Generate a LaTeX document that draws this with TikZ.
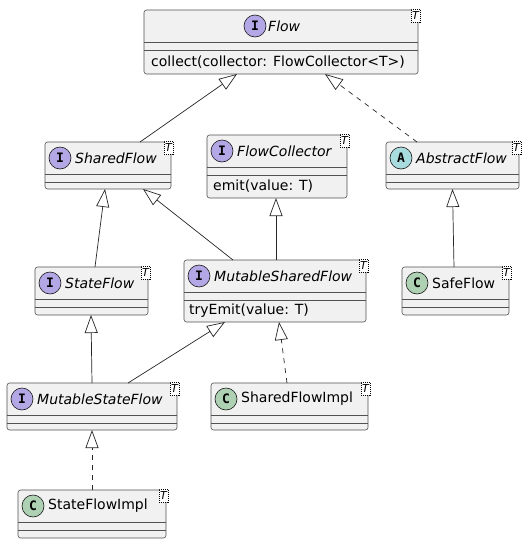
\documentclass[tikz,border=0pt]{standalone}
\usepackage{fontspec}
\setmainfont{DejaVu Sans}
\newfontfamily\badgefont{DejaVu Sans Mono}
\usetikzlibrary{arrows.meta}

\definecolor{boxfill}{HTML}{F1F1F1}
\definecolor{boxline}{HTML}{181818}
\definecolor{ifacebadge}{HTML}{B4A7E5}
\definecolor{abstractbadge}{HTML}{A9DCDF}
\definecolor{classbadge}{HTML}{ADD1B2}

\tikzset{
  classframe/.style={draw=boxline!75, fill=boxfill, line width=0.6pt,
    rounded corners=2.5pt, inner sep=0pt, outer sep=0pt},
  sepline/.style={draw=boxline!75, line width=0.6pt},
  badge/.style={circle, draw=boxline, line width=0.6pt, minimum size=22pt,
    inner sep=0pt, font=\badgefont\bfseries\fontsize{13}{13}\selectfont},
  ctitle/.style={anchor=west, inner sep=0pt, font=\fontsize{14}{16}\selectfont\itshape},
  cname/.style={anchor=west, inner sep=0pt, font=\fontsize{14}{16}\selectfont},
  member/.style={anchor=west, inner sep=0pt, font=\fontsize{14}{16}\selectfont},
  generic/.style={draw=black, dash pattern=on 1pt off 1pt, line width=0.5pt,
    fill=white, minimum width=9pt, minimum height=13pt, inner sep=0pt,
    font=\fontsize{11}{11}\selectfont\itshape},
  extends/.style={draw=black!85, line width=0.7pt,
    -{Triangle[open, length=18pt, width=13pt, line width=0.7pt]}},
  realizes/.style={extends, dash pattern=on 5pt off 5pt},
}

% frame of a class: name, left, top, right, bottom (1 unit = 1pt, y downwards)
\newcommand\classframe[5]{%
  \node[classframe, minimum width={(#4-#2)*1pt}, minimum height={(#5-#3)*1pt}]
    (#1) at ({(#2+#4)/2},{(#3+#5)/2}) {};
  \draw[sepline] ([yshift=-32pt]#1.north west) -- ([yshift=-32pt]#1.north east);
  \draw[sepline] ([yshift=-40pt]#1.north west) -- ([yshift=-40pt]#1.north east);
  \node[generic] (#1-T) at ([xshift=-2.5pt, yshift=-5.5pt]#1.north east) {T};
}

\begin{document}
\begin{tikzpicture}[x=1pt, y=-1pt]
\useasboundingbox[fill=white] (0,0) rectangle (529,544);

% Flow
\classframe{flow}{144}{10}{418}{74}
\node[badge, fill=ifacebadge] (flow-b) at ([xshift=111pt, yshift=-16pt]flow.north west) {I};
\node[ctitle] (flow-n) at ([xshift=124pt, yshift=-16pt]flow.north west) {Flow};
\node[member] (flow-m) at ([xshift=7pt, yshift=-52pt]flow.north west) {collect(collector: FlowCollector<T>)};

% SharedFlow
\classframe{sf}{45}{142}{171}{189}
\node[badge, fill=ifacebadge] (sf-b) at ([xshift=15pt, yshift=-16pt]sf.north west) {I};
\node[ctitle] (sf-n) at ([xshift=30pt, yshift=-16pt]sf.north west) {SharedFlow};

% FlowCollector
\classframe{fc}{207}{135}{347}{198}
\node[badge, fill=ifacebadge] (fc-b) at ([xshift=15pt, yshift=-16pt]fc.north west) {I};
\node[ctitle] (fc-n) at ([xshift=30pt, yshift=-16pt]fc.north west) {FlowCollector};
\node[member] (fc-m) at ([xshift=6pt, yshift=-51pt]fc.north west) {emit(value: T)};

% AbstractFlow
\classframe{af}{386}{142}{519}{189}
\node[badge, fill=abstractbadge] (af-b) at ([xshift=15pt, yshift=-16pt]af.north west) {A};
\node[ctitle] (af-n) at ([xshift=30pt, yshift=-16pt]af.north west) {AbstractFlow};

% StateFlow
\classframe{stf}{35}{267}{148}{315}
\node[badge, fill=ifacebadge] (stf-b) at ([xshift=15pt, yshift=-16pt]stf.north west) {I};
\node[ctitle] (stf-n) at ([xshift=30pt, yshift=-16pt]stf.north west) {StateFlow};

% MutableSharedFlow
\classframe{msf}{184}{260}{366}{322}
\node[badge, fill=ifacebadge] (msf-b) at ([xshift=15pt, yshift=-16pt]msf.north west) {I};
\node[ctitle] (msf-n) at ([xshift=30pt, yshift=-16pt]msf.north west) {MutableSharedFlow};
\node[member] (msf-m) at ([xshift=5pt, yshift=-51pt]msf.north west) {tryEmit(value: T)};

% SafeFlow
\classframe{safe}{402}{267}{509}{315}
\node[badge, fill=classbadge] (safe-b) at ([xshift=15pt, yshift=-16pt]safe.north west) {C};
\node[cname] (safe-n) at ([xshift=30pt, yshift=-16pt]safe.north west) {SafeFlow};

% MutableStateFlow
\classframe{mstf}{7}{383}{177}{430}
\node[badge, fill=ifacebadge] (mstf-b) at ([xshift=15pt, yshift=-16pt]mstf.north west) {I};
\node[ctitle] (mstf-n) at ([xshift=30pt, yshift=-16pt]mstf.north west) {MutableStateFlow};

% SharedFlowImpl
\classframe{sfi}{211}{383}{368}{430}
\node[badge, fill=classbadge] (sfi-b) at ([xshift=15pt, yshift=-16pt]sfi.north west) {C};
\node[cname] (sfi-n) at ([xshift=30pt, yshift=-16pt]sfi.north west) {SharedFlowImpl};

% StateFlowImpl
\classframe{stfi}{18}{490}{166}{538}
\node[badge, fill=classbadge] (stfi-b) at ([xshift=15pt, yshift=-16pt]stfi.north west) {C};
\node[cname] (stfi-n) at ([xshift=30pt, yshift=-16pt]stfi.north west) {StateFlowImpl};

% inheritance
\draw[extends] ([xshift=32pt]sf.north) -- ([xshift=-44pt]flow.south);
\draw[realizes] ([xshift=-35.5pt]af.north) -- ([xshift=44pt]flow.south);
\draw[extends] ([xshift=3.5pt]stf.north) -- ([xshift=-3pt]sf.south);
\draw[extends] ([xshift=-42pt]msf.north) -- ([xshift=35pt]sf.south);
\draw[extends] ([xshift=1pt]msf.north) -- ([xshift=-1pt]fc.south);
\draw[extends] ([xshift=-1.5pt]safe.north) -- (af.south);
\draw[extends] (mstf.north) -- ([xshift=-0.5pt]stf.south);
\draw[extends] ([xshift=36pt]mstf.north) -- ([xshift=-50pt]msf.south);
\draw[realizes] ([xshift=-2.5pt]sfi.north) -- ([xshift=4pt]msf.south);
\draw[realizes] (stfi.north) -- (mstf.south);
\end{tikzpicture}
\end{document}
